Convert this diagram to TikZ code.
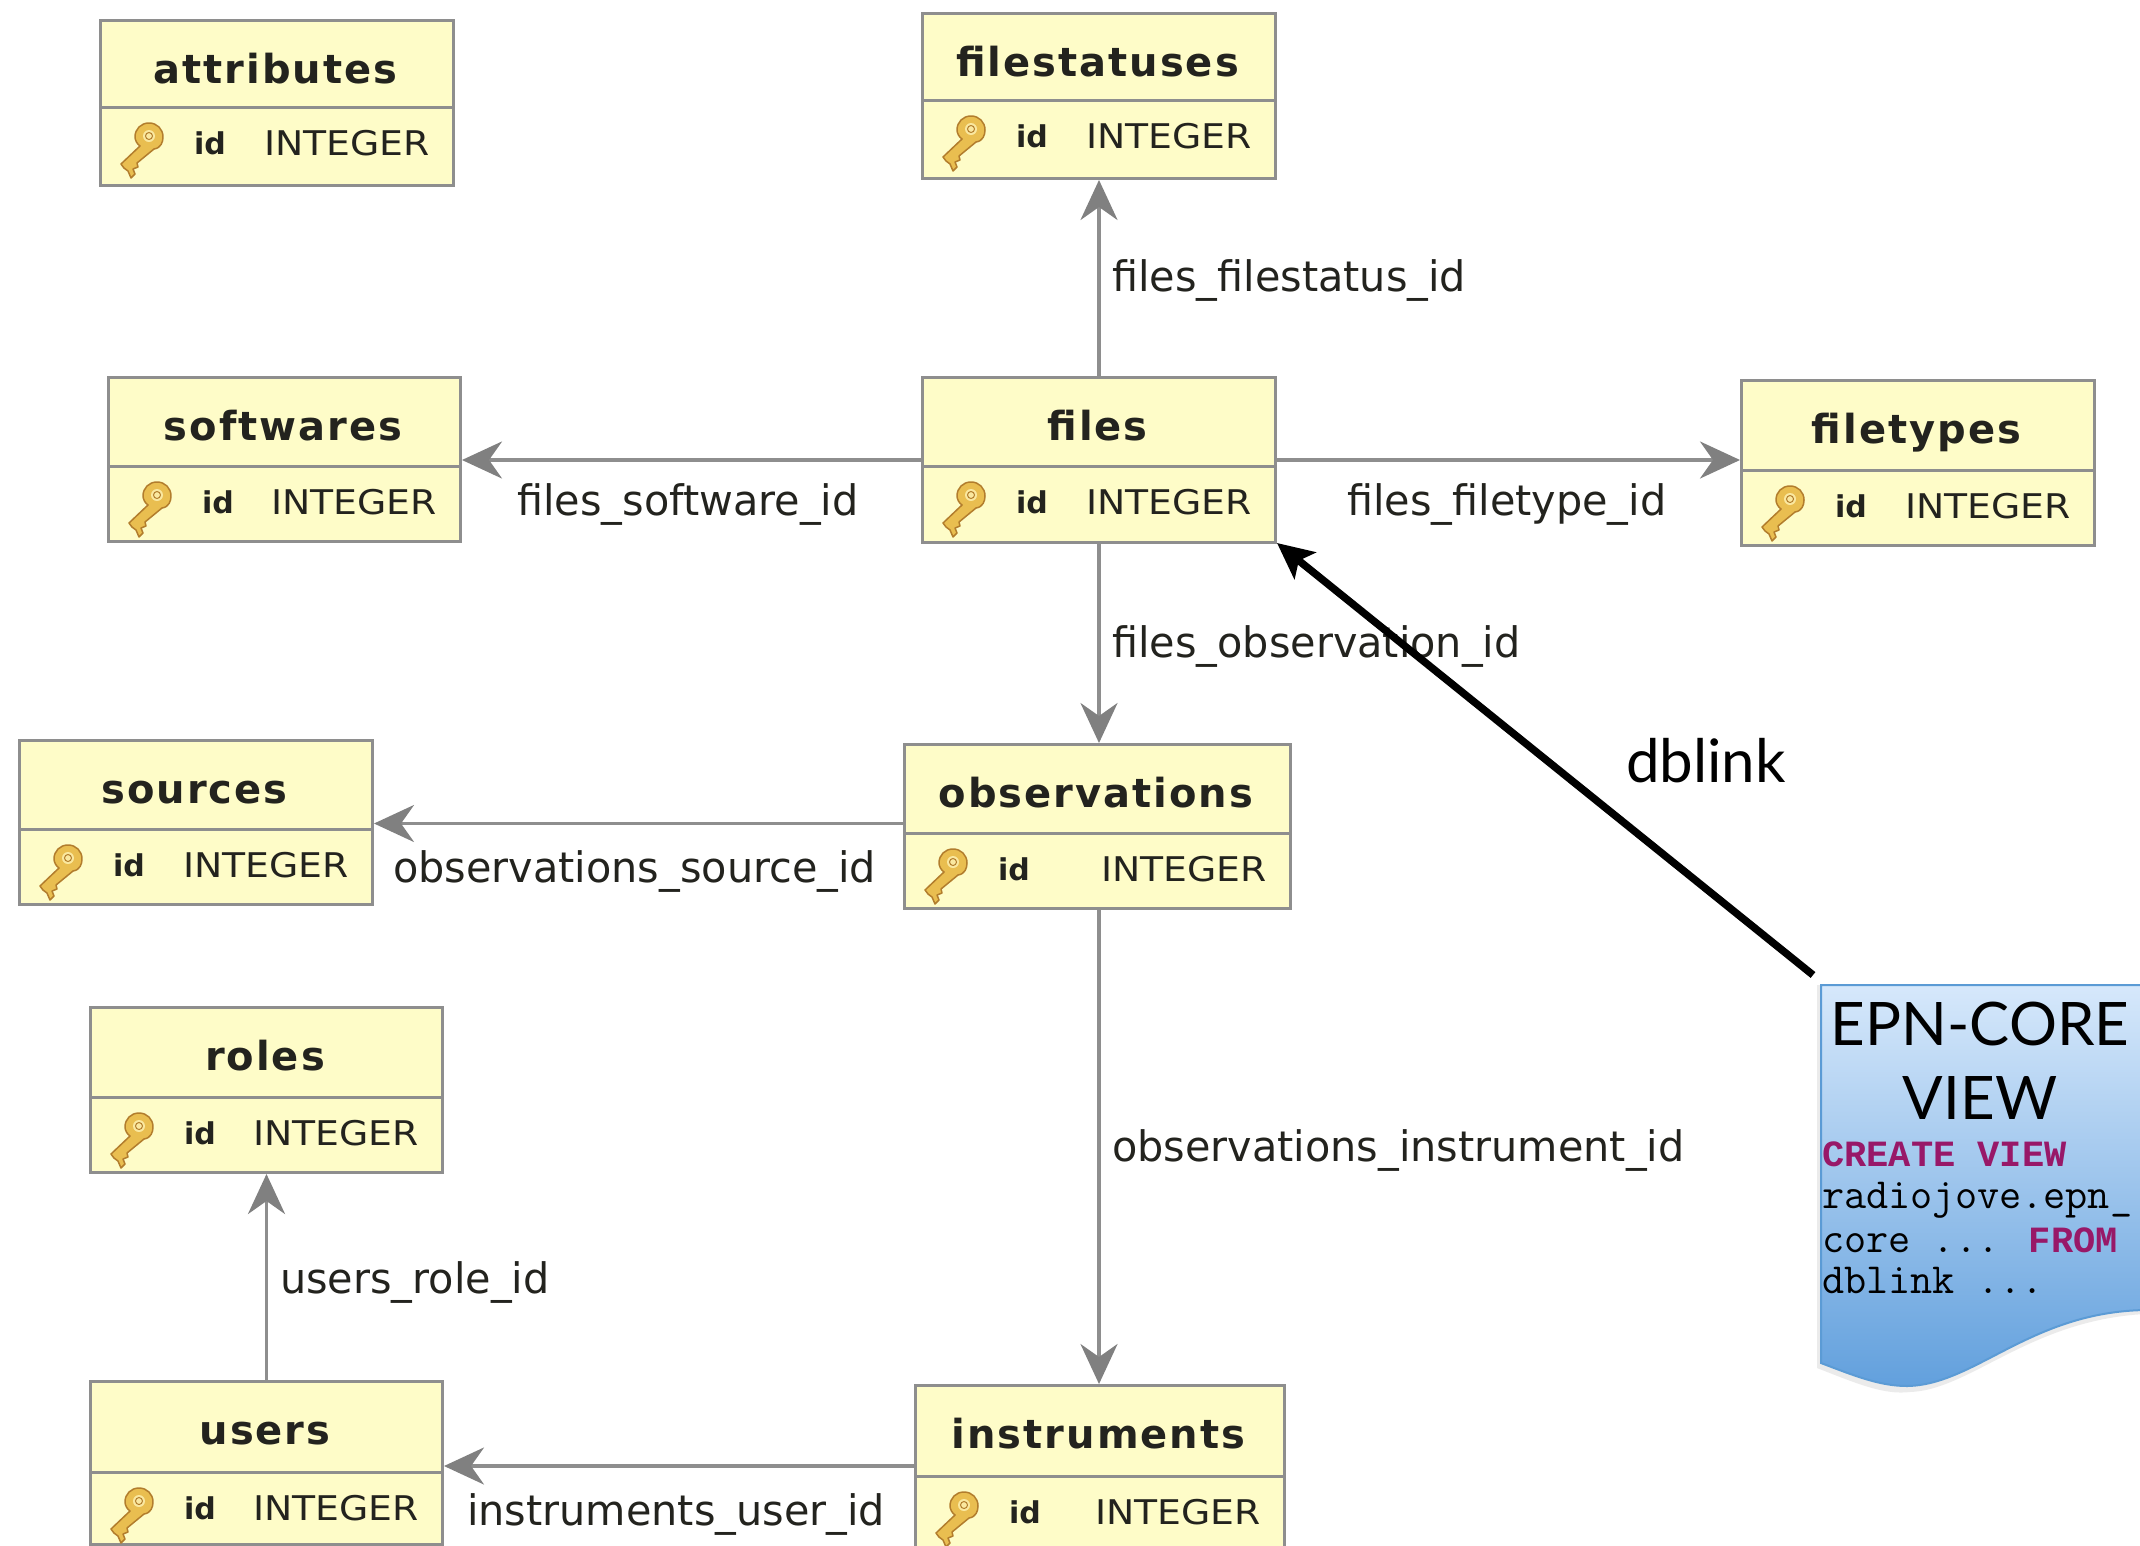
\documentclass[tikz,border=0pt]{standalone}
\usepackage{fontspec}
\usetikzlibrary{arrows.meta}
\setmainfont{DejaVu Sans}
\newfontfamily\lblfont[FakeStretch=0.985]{DejaVu Sans}
\newfontfamily\typefont[FakeStretch=1.11]{DejaVu Sans}
\newfontfamily\ttlfont[LetterSpace=5]{DejaVu Sans}
\newfontfamily\idfont{DejaVu Sans}
\newfontfamily\gillfont{Lato}
\newfontfamily\codefont{Latin Modern Mono}
\newfontfamily\codebold{Liberation Mono}
\definecolor{tblfill}{RGB}{254,252,200}
\definecolor{tblline}{RGB}{142,142,142}
\definecolor{txtdark}{RGB}{35,35,30}
\definecolor{keyw}{RGB}{152,24,104}
\definecolor{docline}{RGB}{91,155,213}
\definecolor{doctop}{RGB}{214,232,251}
\definecolor{docbot}{RGB}{98,160,221}
\definecolor{keyfill}{RGB}{233,190,80}
\definecolor{keyedge}{RGB}{178,125,45}
\definecolor{keylight}{RGB}{250,232,160}
\tikzset{
  tablebox/.style={draw=tblline,line width=3pt,fill=tblfill,inner sep=0pt,anchor=north west},
  titletext/.style={inner sep=0pt,anchor=base,text=txtdark,font=\ttlfont\bfseries\fontsize{40}{44}\selectfont},
  idtext/.style={inner sep=0pt,anchor=base,text=txtdark,font=\idfont\bfseries\fontsize{30}{34}\selectfont},
  typetext/.style={inner sep=0pt,anchor=base east,text=txtdark,font=\typefont\fontsize{34}{38}\selectfont},
  linklabel/.style={inner sep=0pt,anchor=base west,text=txtdark,font=\lblfont\fontsize{42}{46}\selectfont},
  fk/.style={draw=tblline,line width=3.5pt,-{Stealth[length=40pt,width=37pt,inset=13pt,color=tblline!90!black]}},
  dbarrow/.style={draw=black,line width=7.5pt,-{Stealth[length=36pt,width=34pt,inset=8pt]}},
  gilltext/.style={inner sep=0pt,anchor=base,text=black,font=\gillfont\fontsize{60}{64}\selectfont},
  codetext/.style={inner sep=0pt,anchor=base west,text=black,font=\codefont\fontsize{43}{46}\selectfont},
  codekey/.style={codetext,text=keyw,font=\codebold\bfseries\fontsize{37}{40}\selectfont},
}
% #1 name, #2 x, #3 y, #4 width, #5 height, #6 divider offset, #7 title
\newcommand{\erdtable}[7]{%
  \node[tablebox,minimum width=#4pt,minimum height=#5pt] (#1) at (#2,#3) {};
  \begin{scope}[shift={(#2,#3)}]
    \draw[tblline,line width=3pt] (0,#6) -- (#4,#6);
    \node[titletext] (#1-title) at (#4/2,64) {#7};
    \node[idtext] (#1-id) at (111,#6+47) {id};
    \node[typetext] (#1-type) at (#4-22,#6+48) {INTEGER};
    \begin{scope}[shift={(50,#6+30)}]
      \draw[draw=keyedge,line width=1.5pt,fill=keyfill,line join=round]
        (-9,9) -- (-28,27) -- (-25,31) -- (-21,34) -- (-18,41) -- (-14,37) -- (-16,32) -- (-11,30) -- (-12,26) -- (5,12)
        .. controls (12,11) and (14,5) .. (14,0)
        .. controls (14,-8) and (8,-14) .. (0,-14)
        .. controls (-8,-14) and (-14,-8) .. (-14,0)
        .. controls (-14,3) and (-12,7) .. (-9,9) -- cycle;
      \fill[keylight] (0,-1) circle (6);
      \draw[keyedge,line width=1pt] (0,-1) circle (3.5);
    \end{scope}
  \end{scope}
}
\begin{document}
\begin{tikzpicture}[x=1pt,y=-1pt]
\useasboundingbox (0,0) rectangle (2140,1545);
\clip (0,0) rectangle (2140,1545);
\fill[white] (0,0) rectangle (2140,1545);

\erdtable{attributes}{99}{19}{353}{165}{88}{attributes}
\erdtable{filestatuses}{921}{12}{353}{165}{88}{filestatuses}
\erdtable{softwares}{107}{376}{352}{164}{90}{softwares}
\erdtable{files}{921}{376}{353}{165}{90}{files}
\erdtable{filetypes}{1740}{379}{353}{165}{91}{filetypes}
\erdtable{sources}{18}{739}{353}{164}{90}{sources}
\erdtable{observations}{903}{743}{386}{164}{90}{observations}
\erdtable{roles}{89}{1006}{352}{165}{91}{roles}
\erdtable{users}{89}{1380}{352}{163}{92}{users}
\erdtable{instruments}{914}{1384}{369}{163}{92}{instruments}

\draw[fk] (files.north) -- (filestatuses.south);
\draw[fk] (files.west) -- (files.west -| softwares.east);
\draw[fk] (files.east) -- (files.east -| filetypes.west);
\draw[fk] (files.south) -- (files.south |- observations.north);
\draw[fk] ([yshift=3pt]observations.west) -- ([yshift=3pt]observations.west -| sources.east);
\draw[fk] (files.south |- observations.south) -- (files.south |- instruments.north);
\draw[fk] (users.north) -- (roles.south);
\draw[fk] ([yshift=1pt]instruments.west) -- ([yshift=1pt]instruments.west -| users.east);

\node[linklabel] (l1) at (1112,291) {files\_filestatus\_id};
\node[linklabel] (l2) at (517,515) {files\_software\_id};
\node[linklabel] (l3) at (1347,515) {files\_filetype\_id};
\node[linklabel] (l4) at (1112,657) {files\_observation\_id};
\node[linklabel] (l5) at (393,882) {observations\_source\_id};
\node[linklabel] (l6) at (1112,1161) {observations\_instrument\_id};
\node[linklabel] (l7) at (280,1293) {users\_role\_id};
\node[linklabel] (l8) at (467,1525) {instruments\_user\_id};

% document shape
\fill[black,opacity=.08] (1817,985) -- (1817,1368) .. controls (1860,1385) and (1885,1395) .. (1910,1392)
  .. controls (1970,1390) and (2030,1320) .. (2145,1314) -- (2145,985) -- cycle;
\shade[top color=doctop,bottom color=docbot,draw=docline,line width=2pt]
  (1821,985) -- (2145,985) -- (2145,1310)
  .. controls (2030,1312) and (1975,1385) .. (1907,1386)
  .. controls (1880,1386) and (1855,1376) .. (1821,1363) -- cycle;

\coordinate (dbstart) at (1813,975);
\draw[dbarrow] (dbstart) -- ([shift={(0,-1)}]files.south east);
\node[gilltext,anchor=base west] (dbl) at (1626,782) {dblink};

\node[gilltext] (d1) at (1980,1045) {EPN-CORE};
\node[gilltext] (d2) at (1980,1119) {VIEW};
\node[codekey] (c1) at (1822,1166) {CREATE VIEW};
\node[codetext] (c2) at (1822,1208) {radiojove.epn\_};
\node[codetext] (c3) at (1822,1252) {core ... \textcolor{keyw}{\codebold\bfseries\fontsize{37}{40}\selectfont FROM}};
\node[codetext] (c4) at (1822,1293) {dblink ...};
\end{tikzpicture}
\end{document}
